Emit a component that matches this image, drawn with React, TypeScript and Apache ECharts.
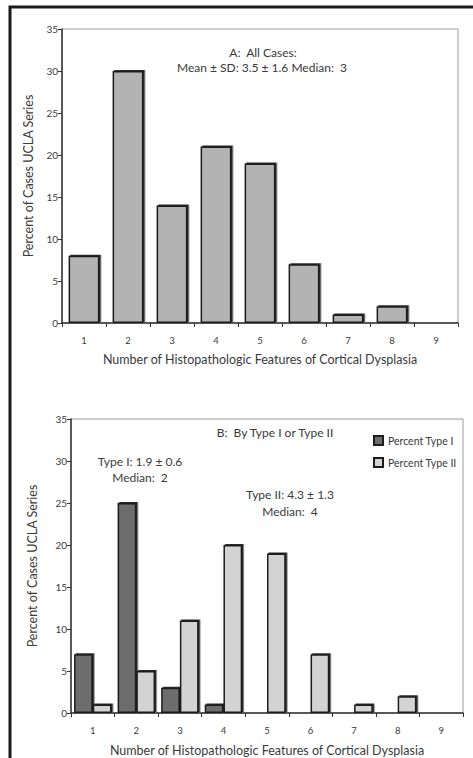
import React, { useEffect, useRef } from "react";
import * as echarts from "echarts";

// Number of histopathologic features (x categories)
const featureCounts = ["1", "2", "3", "4", "5", "6", "7", "8", "9"];
// Panel A: percent of all cases
const allCases = [8, 30, 14, 21, 19, 7, 1, 2, 0];
// Panel B: percent by type
const typeI = [7, 25, 3, 1, 0, 0, 0, 0, 0];
const typeII = [1, 5, 11, 20, 19, 7, 1, 2, 0];

const yTicks = { min: 0, max: 35, interval: 5 };

const FONT = "Lato, 'Open Sans', sans-serif";
const TEXT = "#3a3a3a";
const AXIS_NAME = "Percent of Cases UCLA Series";
const X_NAME = "Number of Histopathologic Features of Cortical Dysplasia";

function yAxis(gridIndex: number, nameGap: number) {
  return {
    type: "value",
    gridIndex,
    ...yTicks,
    name: AXIS_NAME,
    nameLocation: "middle",
    nameGap,
    nameTextStyle: { color: TEXT, fontSize: 12.5, fontFamily: FONT },
    axisLine: { show: true, lineStyle: { color: "#333", width: 1.5 } },
    axisTick: { show: true, length: 4, lineStyle: { color: "#333" } },
    axisLabel: { color: TEXT, fontSize: 10, fontFamily: FONT, margin: 4 },
    splitLine: { show: false },
  };
}

function xAxis(gridIndex: number, nameGap: number) {
  return {
    type: "category",
    gridIndex,
    data: featureCounts,
    name: X_NAME,
    nameLocation: "middle",
    nameGap,
    nameTextStyle: { color: TEXT, fontSize: 12.5, fontFamily: FONT },
    axisLine: { show: true, lineStyle: { color: "#333", width: 1.5 } },
    axisTick: { show: true, length: 4, lineStyle: { color: "#333" } },
    axisLabel: { color: TEXT, fontSize: 9.5, fontFamily: FONT, margin: 12 },
  };
}

const barStyle = (fill: string) => ({
  color: fill,
  borderColor: "#1c1c1c",
  borderWidth: 1.5,
  shadowColor: "#2a2a2a",
  shadowOffsetX: 1.5,
  shadowOffsetY: -1,
  shadowBlur: 0,
});

export default function App() {
  const ref = useRef<HTMLDivElement>(null);

  useEffect(() => {
    if (!ref.current) return;
    const chart = echarts.init(ref.current, null, { renderer: "svg" });
    const textStyle = (text: string, x: number, y: number, size = 12) => ({
      type: "text",
      x,
      y,
      style: {
        text,
        fill: TEXT,
        font: `${size}px ${FONT}`,
        textAlign: "center",
        textVerticalAlign: "middle",
      },
    });
    chart.setOption({
      animation: false,
      backgroundColor: "#fff",
      grid: [
        { left: 62, top: 29, width: 396, height: 294, show: true, borderColor: "#9a9a9a", borderWidth: 1 },
        { left: 71, top: 419, width: 392, height: 294, show: true, borderColor: "#9a9a9a", borderWidth: 1 },
      ],
      xAxis: [xAxis(0, 30), xAxis(1, 31)],
      yAxis: [yAxis(0, 23), yAxis(1, 32)],
      legend: {
        orient: "vertical",
        left: 368,
        top: 430,
        itemWidth: 9,
        itemHeight: 9,
        itemGap: 11,
        icon: "rect",
        textStyle: { color: TEXT, fontSize: 10.5, fontFamily: FONT },
        data: ["Percent Type I", "Percent Type II"],
      },
      graphic: [
        {
          type: "rect",
          shape: { x: 10, y: 7, width: 480, height: 770 },
          style: { fill: "none", stroke: "#1a1a1a", lineWidth: 3 },
          silent: true,
        },
        textStyle("A:  All Cases:", 263, 52),
        textStyle("Mean ± SD: 3.5 ± 1.6 Median:  3", 262, 67),
        textStyle("B:  By Type I or Type II", 275, 432),
        textStyle("Type I: 1.9 ± 0.6", 140, 461),
        textStyle("Median:  2", 140, 477),
        textStyle("Type II: 4.3 ± 1.3", 290, 494),
        textStyle("Median:  4", 290, 511),
      ],
      series: [
        {
          type: "bar",
          name: "All Cases",
          xAxisIndex: 0,
          yAxisIndex: 0,
          data: allCases,
          barCategoryGap: "30%",
          itemStyle: barStyle("#b3b3b3"),
        },
        {
          type: "bar",
          name: "Percent Type I",
          xAxisIndex: 1,
          yAxisIndex: 1,
          data: typeI,
          barGap: "0%",
          barCategoryGap: "14%",
          itemStyle: barStyle("#6d6d6d"),
        },
        {
          type: "bar",
          name: "Percent Type II",
          xAxisIndex: 1,
          yAxisIndex: 1,
          data: typeII,
          barGap: "0%",
          barCategoryGap: "14%",
          itemStyle: barStyle("#d3d3d3"),
        },
      ],
    });
    return () => chart.dispose();
  }, []);

  return (
    <div
      ref={ref}
      style={{ position: "fixed", left: 0, top: 0, width: 473, height: 758 }}
    />
  );
}
